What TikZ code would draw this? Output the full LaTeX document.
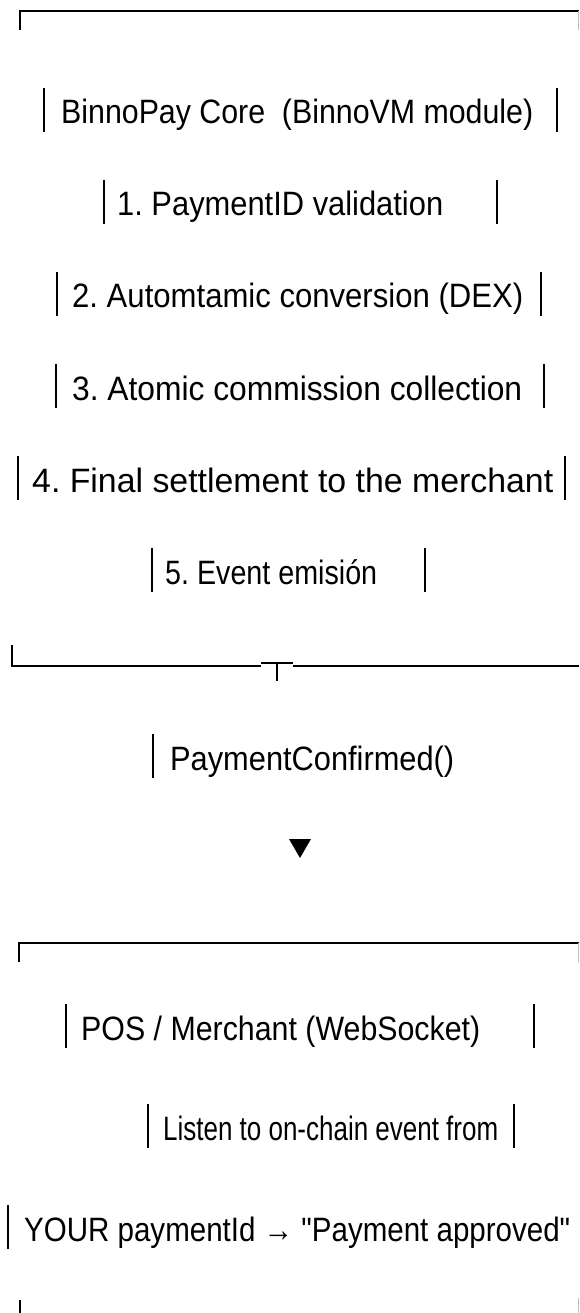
\documentclass[tikz,border=0pt]{standalone}
\usepackage{fontspec}
\setmainfont{Liberation Sans}[FakeStretch=0.92,Ligatures=TeXOff]
\frenchspacing
\usetikzlibrary{positioning}
% squeeze a line of text to the width it has in the ascii box
\newcommand\fitline[2]{\resizebox{#1pt}{\height}{#2}}
\begin{document}
\begin{tikzpicture}[x=1pt,y=-1pt,
  txt/.style={anchor=base west,inner sep=0pt,font=\fontsize{33.8}{40}\selectfont},
  frame/.style={line width=1.8pt},
  bar/.style={line width=1.4pt},
  cut/.style={line width=1.2pt,black!25}]
\useasboundingbox (0,0) rectangle (579,1313);

% upper box
\draw[frame] (20,30) -- (20,11) -- (579,11);
\draw[cut] (578.5,11) -- (578.5,30);
\node[txt] (core)   at (61,124)  {\fitline{472}{BinnoPay Core\ \ (BinnoVM module)}};
\node[txt] (step1)  at (117,216) {\fitline{326}{1. PaymentID validation}};
\node[txt] (step2)  at (72,308)  {\fitline{451}{2. Automtamic conversion (DEX)}};
\node[txt] (step3)  at (72,400)  {\fitline{450}{3. Atomic commission collection}};
\node[txt] (step4)  at (32,492)  {\fitline{521}{4. Final settlement to the merchant}};
\node[txt] (step5)  at (165,584) {\fitline{212}{5. Event emisión}};
\draw[frame] (12,645) -- (12,666) -- (261,666);
\draw[frame] (293,666) -- (579,666);
\draw[bar] (261,663) -- (293,663);
\draw[bar] (277,663) -- (277,681);

% event
\node[txt] (event)  at (170,770) {\fitline{284}{PaymentConfirmed()}};
\fill (289,839) -- (311,839) -- (300,858) -- cycle;

% lower box
\draw[frame] (19,962) -- (19,943) -- (579,943);
\draw[cut] (578.5,943) -- (578.5,962);
\node[txt] (pos)    at (81,1040)  {\fitline{399}{POS / Merchant (WebSocket)}};
\node[txt] (listen) at (163,1140) {\fitline{335}{Listen to on-chain event from}};
\node[txt] (reply)  at (24,1241)  {\fitline{546}{YOUR paymentId → "Payment approved"}};
\draw[bar] (20,1300) -- (20,1313);
\draw[cut] (578.5,1298) -- (578.5,1313);

% side bars of the ascii lines
\foreach \bx/\by in {44/124,557/124,104/216,497/216,57/308,541/308,
                     56/400,544/400,18/492,565/492,152/584,425/584,
                     153/770,66/1040,534/1040,148/1140,514/1140,8/1241}
  \draw[bar] (\bx,\by-36) -- (\bx,\by+8);
\end{tikzpicture}
\end{document}
